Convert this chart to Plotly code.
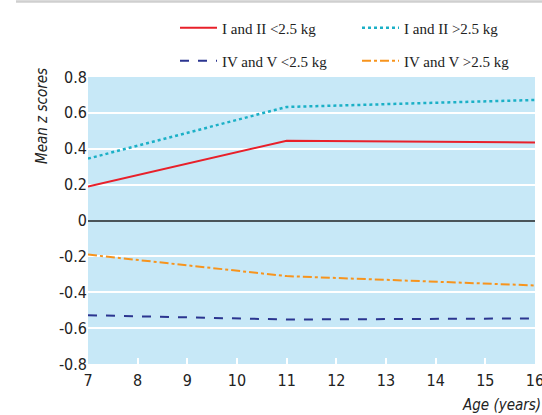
import plotly.graph_objects as go

ages = [7, 11, 16]
s1_name = "I and II <2.5 kg"
s1 = [0.19, 0.445, 0.435]
s2_name = "I and II >2.5 kg"
s2 = [0.345, 0.633, 0.672]
s3_name = "IV and V <2.5 kg"
s3 = [-0.528, -0.552, -0.546]
s4_name = "IV and V >2.5 kg"
s4 = [-0.19, -0.31, -0.362]

x_ticks = [7, 8, 9, 10, 11, 12, 13, 14, 15, 16]
y_ticks = [0.8, 0.6, 0.4, 0.2, 0, -0.2, -0.4, -0.6, -0.8]
y_tick_text = ["0.8", "0.6", "0.4", "0.2", "0", "-0.2", "-0.4", "-0.6", "-0.8"]

W, H = 542, 415
ML, MR, MT, MB = 88, 7, 77, 51
PW, PH = W - ML - MR, H - MT - MB

def px_x(p):
    return (p - ML) / PW

def px_y(p):
    return (H - MB - p) / PH

narrow = "DejaVu Sans Condensed, Liberation Sans Narrow, Liberation Sans, sans-serif"
serif = "Liberation Serif, Times New Roman, serif"

fig = go.Figure()
fig.add_trace(go.Scatter(x=ages, y=s1, name=s1_name, mode="lines",
                         line=dict(color="#e8202a", width=2), legend="legend"))
fig.add_trace(go.Scatter(x=ages, y=s2, name=s2_name, mode="lines",
                         line=dict(color="#1bb0c6", width=2.5, dash="dot"), legend="legend2"))
fig.add_trace(go.Scatter(x=ages, y=s3, name=s3_name, mode="lines",
                         line=dict(color="#2b3590", width=2, dash="dash"), legend="legend3"))
fig.add_trace(go.Scatter(x=ages, y=s4, name=s4_name, mode="lines",
                         line=dict(color="#f7941d", width=2, dash="dashdot"), legend="legend4"))

legend_common = dict(orientation="h", xanchor="left", yanchor="middle",
                     bgcolor="rgba(0,0,0,0)", font=dict(family=serif, size=15, color="#222"),
                     borderwidth=0, itemwidth=37)

fig.update_layout(
    width=W, height=H,
    margin=dict(l=ML, r=MR, t=MT, b=MB, autoexpand=False),
    paper_bgcolor="white",
    plot_bgcolor="#c7e8f7",
    legend=dict(x=px_x(175), y=px_y(28), **legend_common),
    legend2=dict(x=px_x(357), y=px_y(28), **legend_common),
    legend3=dict(x=px_x(175), y=px_y(61), **legend_common),
    legend4=dict(x=px_x(357), y=px_y(61), **legend_common),
    xaxis=dict(range=[7, 16], tickvals=x_ticks, showgrid=False, zeroline=False,
               ticks="inside", ticklen=6, tickwidth=2, tickcolor="white",
               ticklabelstandoff=5, ticklabeloverflow="allow",
               tickfont=dict(family=narrow, size=16, color="#222"), showline=False,
               fixedrange=True),
    yaxis=dict(range=[-0.8, 0.8], tickvals=y_ticks, ticktext=y_tick_text,
               showgrid=True, gridcolor="white", gridwidth=2,
               zeroline=True, zerolinecolor="#4a5459", zerolinewidth=2,
               ticks="", tickfont=dict(family=narrow, size=16, color="#222"),
               showline=False, fixedrange=True),
    annotations=[
        dict(text="Mean z scores", xref="paper", yref="paper",
             x=px_x(42), y=px_y(116), textangle=-90, showarrow=False,
             xanchor="center", yanchor="middle",
             font=dict(family=narrow, size=15, color="#222", style="italic")),
        dict(text="Age (years)", xref="paper", yref="paper",
             x=px_x(543), y=px_y(405), showarrow=False,
             xanchor="right", yanchor="middle",
             font=dict(family=narrow, size=15, color="#222", style="italic")),
    ],
    shapes=[
        dict(type="line", xref="paper", yref="paper",
             x0=px_x(16), x1=px_x(542), y0=px_y(1.5), y1=px_y(1.5),
             line=dict(color="#cfcfcf", width=2.5)),
    ],
    showlegend=True,
)

fig.write_html("out.html", config={"displayModeBar": False},
               post_script="document.body.style.margin='0';document.body.style.overflow='hidden';")
